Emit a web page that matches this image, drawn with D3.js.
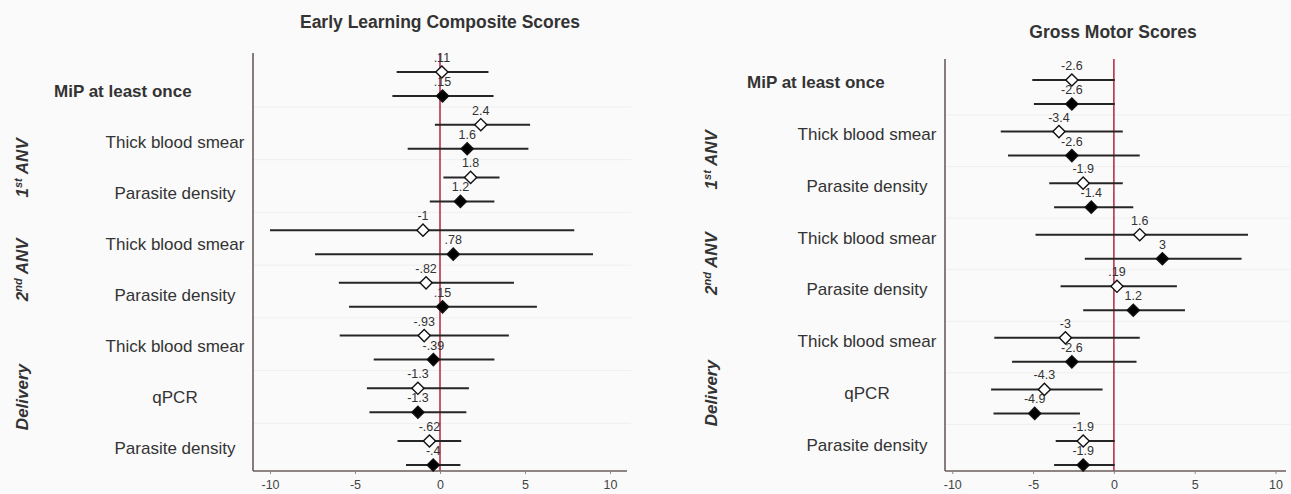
<!DOCTYPE html>
<html>
<head>
<meta charset="utf-8">
<script src="https://cdn.jsdelivr.net/npm/d3@7"></script>
<style>
  html, body { margin: 0; padding: 0; background: #fafafa; }
  svg { display: block; font-family: "Liberation Sans", Arial, sans-serif; }
</style>
</head>
<body>
<svg id="chart" width="1291" height="494"></svg>
<script>
/* === Forest plots: malaria in pregnancy vs child development scores === */

// row labels (shared by both panels)
var rowLabels = ['MiP at least once', 'Thick blood smear', 'Parasite density', 'Thick blood smear',
                 'Parasite density', 'Thick blood smear', 'qPCR', 'Parasite density'];
var groupNames = ['1st ANV', '2nd ANV', 'Delivery'];
var groupRows = [[1, 2], [3, 4], [5, 6, 7]];
var xTicks = [-10, -5, 0, 5, 10];

// Early Learning Composite: open diamond (first model), filled diamond (second model)
var elOpenEst = [0.11, 2.4, 1.8, -1.0, -0.82, -0.93, -1.3, -0.62];
var elOpenLo  = [-2.55, -0.3, 0.2, -10.0, -5.95, -5.9, -4.3, -2.5];
var elOpenHi  = [2.85, 5.3, 3.5, 7.9, 4.35, 4.05, 1.7, 1.25];
var elFillEst = [0.15, 1.6, 1.2, 0.78, 0.15, -0.39, -1.3, -0.4];
var elFillLo  = [-2.8, -1.9, -0.6, -7.35, -5.35, -3.9, -4.15, -2.0];
var elFillHi  = [3.15, 5.2, 3.2, 9.0, 5.7, 3.2, 1.55, 1.2];

// Gross Motor
var gmOpenEst = [-2.6, -3.4, -1.9, 1.6, 0.19, -3.0, -4.3, -1.9];
var gmOpenLo  = [-5.05, -7.0, -4.0, -4.85, -3.3, -7.4, -7.6, -3.6];
var gmOpenHi  = [0.05, 0.55, 0.55, 8.3, 3.9, 1.6, -0.7, 0.05];
var gmFillEst = [-2.6, -2.6, -1.4, 3.0, 1.2, -2.6, -4.9, -1.9];
var gmFillLo  = [-4.95, -6.55, -3.7, -1.8, -1.9, -6.3, -7.45, -3.7];
var gmFillHi  = [0.05, 1.6, 1.2, 7.9, 4.4, 1.4, -2.1, 0.05];

var TEXT = '#333';
var AXIS = '#6a5d5d';
var ZERO = '#b8324a';
var BAR = '#262626';

var svg = d3.select('#chart');

// plain hyphen minus, like the original
var loc = d3.formatLocale({ decimal: '.', thousands: ',', grouping: [3], currency: ['', ''], minus: '-' });
var fmt = loc.format('.2~g');
// "-0.62" -> "-.62", "0.11" -> ".11"
function valueLabel(v) {
    return fmt(v).replace(/^(-?)0\./, '$1.');
}

function series(est, lo, hi) {
    return est.map(function(e, i) { return { row: i, est: e, lo: lo[i], hi: hi[i] }; });
}

function drawPanel(p) {
    var g = svg.append('g');
    var rows = d3.range(rowLabels.length);

    var x = d3.scaleLinear().domain(p.xDomain).range([p.left, p.right]);
    var y = d3.scalePoint().domain(rows).range(p.rowRange);
    var yLab = d3.scalePoint().domain(rows).range(p.labelRange);
    var off = 12;

    // title
    g.append('text')
        .attr('x', p.titleX).attr('y', p.titleY)
        .attr('text-anchor', 'middle')
        .attr('font-size', '17.5px').attr('font-weight', 'bold')
        .attr('fill', TEXT)
        .text(p.title);

    // faint horizontal grid between rows
    g.append('g').selectAll('line').data(rows.slice(0, -1)).enter().append('line')
        .attr('x1', p.left).attr('x2', p.right + 4)
        .attr('y1', function(d) { return y(d) + 23; })
        .attr('y2', function(d) { return y(d) + 23; })
        .attr('stroke', '#efefef').attr('stroke-width', 1);

    // zero reference line
    g.append('line')
        .attr('x1', x(0)).attr('x2', x(0))
        .attr('y1', p.top).attr('y2', p.bottom)
        .attr('stroke', ZERO).attr('stroke-width', 1.6);

    // axes
    g.append('line')
        .attr('x1', p.left).attr('x2', p.left)
        .attr('y1', p.top).attr('y2', p.bottom)
        .attr('stroke', AXIS).attr('stroke-width', 1.6);

    var xAxis = d3.axisBottom(x).tickValues(xTicks).tickSize(3).tickPadding(6)
        .tickFormat(loc.format('d'));
    var ax = g.append('g')
        .attr('transform', 'translate(0,' + p.bottom + ')')
        .call(xAxis);
    ax.select('.domain').attr('stroke', AXIS).attr('stroke-width', 1.6)
        .attr('d', 'M' + p.left + ',0H' + p.right);
    ax.selectAll('.tick line').attr('stroke', '#888');
    ax.selectAll('.tick text')
        .attr('font-size', '12.5px').attr('fill', '#444')
        .attr('font-family', '"Liberation Sans", Arial, sans-serif');

    // row labels
    g.append('g').selectAll('text').data(rows).enter().append('text')
        .attr('x', function(d) { return d === 0 ? p.mipX : p.labelX; })
        .attr('y', function(d) { return yLab(d); })
        .attr('dy', '0.35em')
        .attr('text-anchor', function(d) { return d === 0 ? 'start' : 'middle'; })
        .attr('font-size', '17px')
        .attr('font-weight', function(d) { return d === 0 ? 'bold' : 'normal'; })
        .attr('fill', TEXT)
        .text(function(d) { return rowLabels[d]; });

    // rotated group labels
    var grp = g.append('g').selectAll('text').data(groupNames).enter().append('text')
        .attr('transform', function(d, i) {
            var yy = d3.mean(groupRows[i], function(r) { return yLab(r); });
            return 'translate(' + p.groupX + ',' + yy + ') rotate(-90)';
        })
        .attr('text-anchor', 'middle')
        .attr('dy', '0.35em')
        .attr('font-size', '17px').attr('font-weight', 'bold').attr('font-style', 'italic')
        .attr('fill', TEXT);
    grp.each(function(d) {
        var t = d3.select(this);
        var m = d.match(/^(\d)(st|nd)( .*)$/);
        if (m) {
            t.append('tspan').text(m[1]);
            t.append('tspan').attr('font-size', '11px').attr('dy', '-0.55em').text(m[2]);
            t.append('tspan').attr('dy', '0.35em').text(m[3]);
        } else {
            t.text(d);
        }
    });

    // estimates with CIs
    var sets = [
        { data: p.open, dy: -off, fill: '#fff' },
        { data: p.fill, dy: off, fill: '#000' }
    ];
    var diamond = d3.symbol().type(d3.symbolSquare).size(74);
    sets.forEach(function(s) {
        var sg = g.append('g');
        sg.selectAll('line').data(s.data).enter().append('line')
            .attr('x1', function(d) { return x(d.lo); })
            .attr('x2', function(d) { return x(d.hi); })
            .attr('y1', function(d) { return y(d.row) + s.dy; })
            .attr('y2', function(d) { return y(d.row) + s.dy; })
            .attr('stroke', BAR).attr('stroke-width', 2);
        sg.selectAll('path').data(s.data).enter().append('path')
            .attr('d', diamond)
            .attr('transform', function(d) {
                return 'translate(' + x(d.est) + ',' + (y(d.row) + s.dy) + ') rotate(45)';
            })
            .attr('fill', s.fill)
            .attr('stroke', '#111').attr('stroke-width', 1.4);
        sg.selectAll('text').data(s.data).enter().append('text')
            .attr('x', function(d) { return x(d.est); })
            .attr('y', function(d) { return y(d.row) + s.dy - 10; })
            .attr('text-anchor', 'middle')
            .attr('font-size', '12.5px')
            .attr('fill', TEXT)
            .text(function(d) { return valueLabel(d.est); });
    });
}

drawPanel({
    title: 'Early Learning Composite Scores', titleX: 440, titleY: 28,
    xDomain: [-11, 11], left: 253, right: 627, top: 53, bottom: 471,
    rowRange: [84, 453], labelRange: [91.5, 448],
    labelX: 175, mipX: 54, groupX: 22,
    open: series(elOpenEst, elOpenLo, elOpenHi),
    fill: series(elFillEst, elFillLo, elFillHi)
});

drawPanel({
    title: 'Gross Motor Scores', titleX: 1113, titleY: 38,
    xDomain: [-10.45, 10.65], left: 945, right: 1286, top: 59, bottom: 471,
    rowRange: [92, 453], labelRange: [82, 445],
    labelX: 867, mipX: 747, groupX: 711,
    open: series(gmOpenEst, gmOpenLo, gmOpenHi),
    fill: series(gmFillEst, gmFillLo, gmFillHi)
});
</script>
</body>
</html>
